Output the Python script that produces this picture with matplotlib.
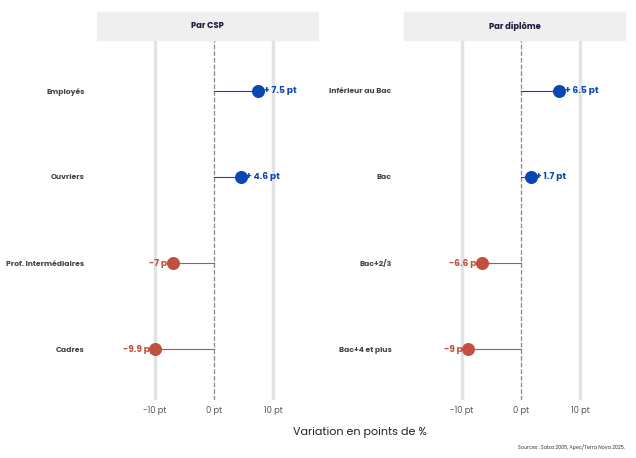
import matplotlib.pyplot as plt
from matplotlib.patches import Rectangle

plt.rcParams['font.family'] = ['Poppins', 'Lato', 'DejaVu Sans']

csp_labels = ['Employés', 'Ouvriers', 'Prof. Intermédiaires', 'Cadres']
csp_values = [7.5, 4.6, -7, -9.9]
dip_labels = ['Inférieur au Bac', 'Bac', 'Bac+2/3', 'Bac+4 et plus']
dip_values = [6.5, 1.7, -6.6, -9]
titles = ['Par CSP', 'Par diplôme']

blue = '#0b47b3'
red = '#c0503f'

fig = plt.figure(figsize=(6.36, 4.58), dpi=100)
W, H = 636, 458
panels = [(97, csp_labels, csp_values, titles[0]),
          (404, dip_labels, dip_values, titles[1])]
for left, labels, values, title in panels:
    ax = fig.add_axes([left / W, 1 - 400 / H, 221 / W, 360 / H])
    ax.set_xlim(-19.8, 17.6)
    ax.set_ylim(-0.59, 3.59)
    for x in (-10, 10):
        ax.axvline(x, color='#e3e3e3', lw=2.5, zorder=0)
    ax.axvline(0, color='#888888', lw=0.9, ls='--', zorder=1)
    ys = [3, 2, 1, 0]
    for y, v in zip(ys, values):
        c = blue if v > 0 else red
        ax.plot([0, v], [y, y], color=c, lw=0.8, zorder=2)
        ax.scatter([v], [y], s=70, color=c, zorder=3)
        if v > 0:
            ax.text(v + 0.9, y, f'+ {v:g} pt', color=c, fontsize=6.5,
                    fontweight='bold', va='center', ha='left')
        else:
            ax.text(v - 0.3, y, f'-{abs(v):g} pt', color=c, fontsize=6.5,
                    fontweight='bold', va='center', ha='right', zorder=2.5)
    ax.set_yticks(ys)
    ax.set_yticklabels(labels, fontsize=5.5, fontweight='bold', color='#444444')
    ax.set_xticks([-10, 0, 10])
    ax.set_xticklabels(['-10 pt', '0 pt', '10 pt'], fontsize=6, color='#555555')
    ax.tick_params(length=0, pad=4)
    ax.tick_params(axis='y', pad=9)
    for s in ax.spines.values():
        s.set_visible(False)
    fig.patches.append(Rectangle((left / W, 1 - 40 / H), 221 / W, 28 / H,
                                 transform=fig.transFigure, color='#efefef', zorder=0))
    fig.text((left + 110.5) / W, 1 - 26 / H, title, ha='center', va='center',
             fontsize=6, fontweight='bold', color='#1a1a3a')

fig.text(360 / W, 1 - 432 / H, 'Variation en points de %', ha='center', va='center',
         fontsize=8, color='#222222')
fig.text(625 / W, 1 - 447 / H, 'Sources : Salsa 2005, Apec/Terra Nova 2025.',
         ha='right', va='center', fontsize=3.5, color='#333333')
fig.savefig('out.png', dpi=100)
